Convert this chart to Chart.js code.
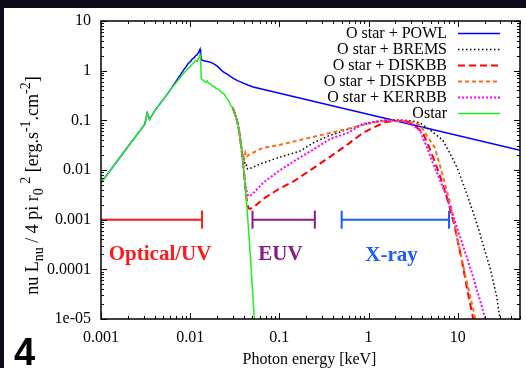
<!DOCTYPE html>
<html><head><meta charset="utf-8">
<script src="https://cdn.jsdelivr.net/npm/chart.js@4"></script>
<style>html,body{margin:0;padding:0;background:#fff;overflow:hidden}canvas{display:block}</style>
</head><body>
<canvas id="c" width="526" height="368"></canvas>
<script>
// ---------- data ----------
const seriesNames = ['O star + POWL','O star + BREMS','O star + DISKBB','O star + DISKPBB','O star + KERRBB','Ostar'];

const ostarEnergy = [0.001,0.0015,0.002,0.0027,0.0031,0.0033,0.0035,0.004,0.005,0.006,0.0075,0.0085,0.009,0.0095,0.01,0.0105,0.011,0.0115,0.012,0.0123,0.0127,0.0129,0.0131,0.0133,0.0136,0.0142,0.0148,0.0155,0.016,0.0168,0.0175,0.0185,0.0195,0.021,0.0225,0.024,0.0255,0.027,0.0285,0.03,0.0315,0.033,0.0345,0.036,0.0375,0.039,0.0405,0.042,0.0435,0.045,0.0465,0.048,0.0495,0.051,0.0525,0.055];
const ostarValues = [0.0055,0.0147,0.0293,0.06,0.084,0.139,0.105,0.155,0.264,0.41,0.68,0.9,1.0,1.1,1.2,1.35,1.45,1.6,1.55,1.75,1.9,2.05,1.75,0.7,0.66,0.64,0.58,0.62,0.56,0.55,0.5,0.48,0.44,0.42,0.36,0.34,0.28,0.25,0.2,0.18,0.14,0.11,0.08,0.05,0.028,0.015,0.0075,0.0035,0.0016,0.0007,0.0003,0.00012,5e-5,2.2e-5,1e-5,4e-6];

const powlEnergy = [0.001,0.0015,0.002,0.0027,0.0031,0.0033,0.0035,0.004,0.005,0.006,0.0075,0.0085,0.009,0.0095,0.01,0.0105,0.011,0.0115,0.012,0.0125,0.0129,0.0131,0.0134,0.014,0.015,0.0165,0.018,0.02,0.0215,0.0233,0.026,0.0285,0.0305,0.034,0.0396,0.045,0.0508,50];
const powlValues = [0.0055,0.0147,0.0293,0.06,0.084,0.139,0.105,0.155,0.264,0.41,0.75,1.05,1.2,1.4,1.5,1.7,1.8,2.0,2.1,2.4,2.7,2.1,1.65,1.6,1.55,1.5,1.4,1.25,1.1,0.95,0.85,0.76,0.7,0.63,0.56,0.51,0.47,0.025];

const bremsEnergy = [0.03,0.0315,0.033,0.0345,0.036,0.0375,0.039,0.0405,0.042,0.043,0.044,0.046,0.05,0.0656,0.1,0.17,0.238,0.35,0.56,0.8,1.18,1.7,2.25,3.0,3.77,5.0,6.8,8.2,9.77,11.3,13.0,15.3,17.7,20.1,22.9,25.0,27.4,29.6,31.5];
const bremsValues = [0.18,0.14,0.11,0.08,0.05,0.03,0.02,0.015,0.012,0.0125,0.0105,0.0105,0.0113,0.0139,0.018,0.024,0.035,0.048,0.064,0.079,0.093,0.1,0.102,0.098,0.089,0.062,0.040,0.0216,0.0115,0.0058,0.00288,0.00121,0.00054,0.00024,0.000112,5.8e-5,2.8e-5,1.1e-5,4e-6];

const diskbbEnergy = [0.03,0.0315,0.033,0.0345,0.036,0.0375,0.039,0.0405,0.042,0.0435,0.045,0.047,0.052,0.0656,0.1,0.142,0.23,0.37,0.6,0.866,1.2,1.57,2.25,2.91,3.5,4.07,4.9,5.83,6.7,7.55,8.4,9.28,11.1,13.0,14.8,15.5];
const diskbbValues = [0.18,0.14,0.11,0.08,0.05,0.028,0.015,0.0075,0.0035,0.0022,0.0017,0.00165,0.0018,0.0026,0.0042,0.0058,0.0103,0.0184,0.034,0.056,0.075,0.093,0.098,0.093,0.071,0.056,0.026,0.0115,0.0056,0.00288,0.00142,0.00072,0.000155,3.4e-5,1.1e-5,5e-6];

const diskpbbEnergy = [0.03,0.0315,0.033,0.0345,0.036,0.0375,0.039,0.0405,0.0415,0.043,0.045,0.05,0.0656,0.1,0.17,0.3,0.48,0.8,1.21,1.74,2.5,3.2,3.77,4.6,5.54,6.3,7.17,8.59,10.0,12.0,14.4,15.6,16.5];
const diskpbbValues = [0.18,0.14,0.11,0.08,0.05,0.03,0.02,0.017,0.022,0.018,0.02,0.022,0.028,0.032,0.040,0.051,0.062,0.078,0.093,0.098,0.097,0.09,0.081,0.047,0.028,0.0128,0.0055,0.00157,0.00039,8.5e-5,2.1e-5,1.1e-5,5e-6];

const kerrbbEnergy = [0.03,0.0315,0.033,0.0345,0.036,0.0375,0.039,0.0405,0.042,0.0435,0.045,0.047,0.05,0.0656,0.1,0.154,0.25,0.37,0.6,0.866,1.45,2.25,3.0,3.77,4.5,5.26,6.3,7.55,8.6,9.77,11.1,12.6,14.3,16.4,18.2,20.1,21.5];
const kerrbbValues = [0.18,0.14,0.11,0.08,0.05,0.028,0.015,0.0075,0.0045,0.0034,0.003,0.003,0.0033,0.0055,0.0097,0.016,0.027,0.042,0.057,0.085,0.1,0.098,0.084,0.064,0.029,0.0139,0.0064,0.00288,0.0014,0.00072,0.00036,0.000178,9e-5,3.9e-5,2.1e-5,1.1e-5,5e-6];

const rangeNames = ['Optical/UV','EUV','X-ray'];
const opticalRange = [0.001, 0.0136];
const euvRange = [0.05, 0.25];
const xrayRange = [0.5, 8];
const rangeLevel = 0.001;

const xTickValues = [0.001,0.01,0.1,1,10];
const xTickLabels = ['0.001','0.01','0.1','1','10'];
const yTickValues = [1e-5,1e-4,1e-3,1e-2,1e-1,1,10];
const yTickLabels = ['1e-05','0.0001','0.001','0.01','0.1','1','10'];

// ---------- helpers ----------
function zip(e, v){ return e.map((x,i)=>({x:x, y:v[i]})); }
function isDecade(v){ const l=Math.log10(v); return Math.abs(l-Math.round(l))<1e-6; }
function labelFor(vals, labs){ return function(v){ const i = vals.findIndex(t=>Math.abs(Math.log10(t)-Math.log10(v))<1e-6); return i>=0?labs[i]:''; }; }
function buildLogTicks(scale, dmin, dmax){
  const t=[]; for(let d=dmin; d<=dmax; d++) for(let m=1;m<=9;m++){ const v=m*Math.pow(10,d); if(v>=scale.min*0.9999 && v<=scale.max*1.0001) t.push({value:v}); }
  scale.ticks=t;
}
const SERIF = '"Liberation Serif", "Times New Roman", serif';
const SANS = '"Liberation Sans", Arial, sans-serif';

const styles = [
  {color:'#0000ff', width:1.5, dash:[]},
  {color:'#000000', width:1.5, dash:[1.5,2.5]},
  {color:'#ff0000', width:2, dash:[7,4]},
  {color:'#ff6a1f', width:2, dash:[4,3]},
  {color:'#ff00ff', width:2, dash:[2,2]},
  {color:'#22ee22', width:1.5, dash:[]}
];
const rangeColors = ['#ff1a1a','#8a1a8a','#1a5cff'];

function lineDs(i, e, v, order){
  return {label: seriesNames[i], data: zip(e,v), borderColor: styles[i].color, backgroundColor: styles[i].color,
    borderWidth: styles[i].width, borderDash: styles[i].dash, pointRadius:0, fill:false, tension:0, order: order};
}
function rangeDs(i, r, radii){
  return {label: rangeNames[i], data: zip(r, [rangeLevel, rangeLevel]), borderColor: rangeColors[i], backgroundColor: rangeColors[i],
    borderWidth: 2, pointStyle:'line', rotation:90, pointRadius: radii, pointBorderWidth:2, pointBorderColor: rangeColors[i], fill:false, order: 0};
}

// ---------- plugins ----------
const bgPlugin = {id:'bg', beforeDraw(chart){ const c=chart.ctx; c.save(); c.fillStyle='#fff'; c.fillRect(0,0,chart.width,chart.height);
  c.fillStyle='#0b0b1c'; c.fillRect(0,0,chart.width,8); c.fillRect(0,0,4,chart.height); c.restore(); }};

const framePlugin = {id:'frame', afterDatasetsDraw(chart){
  const c=chart.ctx, a=chart.chartArea, x=chart.scales.x, y=chart.scales.y;
  c.save(); c.strokeStyle='#000';
  c.lineWidth=1;
  c.beginPath();
  x.ticks.forEach(t=>{ const p=Math.round(x.getPixelForValue(t.value))+0.5; const L=isDecade(t.value)?6:3;
    c.moveTo(p,a.bottom); c.lineTo(p,a.bottom-L); c.moveTo(p,a.top); c.lineTo(p,a.top+L); });
  y.ticks.forEach(t=>{ const p=Math.round(y.getPixelForValue(t.value))+0.5; const L=isDecade(t.value)?6:3;
    c.moveTo(a.left,p); c.lineTo(a.left+L,p); c.moveTo(a.right,p); c.lineTo(a.right-L,p); });
  c.stroke();
  c.lineWidth=1.5;
  c.strokeRect(a.left, a.top, a.right-a.left, a.bottom-a.top);
  // legend
  c.font = '16px '+SERIF; c.textAlign='right'; c.textBaseline='middle'; c.fillStyle='#000';
  seriesNames.forEach((n,i)=>{ const yy=33+16*i; c.fillText(n, 447, yy+1);
    c.save(); c.strokeStyle=styles[i].color; c.lineWidth=styles[i].width; c.setLineDash(styles[i].dash);
    c.beginPath(); c.moveTo(458,yy+0.5); c.lineTo(500,yy+0.5); c.stroke(); c.restore(); });
  // range labels
  const labs = [[0.0046,2.0e-4],[0.103,2.0e-4],[1.81,1.86e-4]];
  c.font = 'bold 21px '+SERIF; c.textAlign='center'; c.textBaseline='middle';
  rangeNames.forEach((n,i)=>{ c.fillStyle=rangeColors[i]; c.fillText(n, x.getPixelForValue(labs[i][0]), y.getPixelForValue(labs[i][1])); });
  c.restore();
}};

const textPlugin = {id:'texts', afterDraw(chart){
  const c=chart.ctx; c.save(); c.fillStyle='#000';
  // x title
  c.font='16px '+SERIF; c.textAlign='center'; c.textBaseline='alphabetic';
  c.fillText('Photon energy [keV]', 309.5, 364);
  // y title with sub/superscripts
  const fs=18, ss=Math.round(fs*0.8);
  const segs=[['nu L',0],['nu',1],[' / 4 pi r',0],['0',1],[' ',0],['2',2],[' [erg.s',0],['-1',2],['.cm',0],['-2',2],[']',0]];
  let total=0;
  segs.forEach(s=>{ c.font=(s[1]?ss:fs)+'px '+SERIF; s.w=c.measureText(s[0]).width; total+=s.w; });
  c.translate(38,185.5); c.rotate(-Math.PI/2); c.textAlign='left';
  let px=-total/2;
  segs.forEach(s=>{ c.font=(s[1]?ss:fs)+'px '+SERIF; const dy = s[1]===1? fs*0.3 : (s[1]===2? -fs*0.45 : 0); c.fillText(s[0], px, dy); px+=s.w; });
  c.restore();
  c.save(); c.fillStyle='#000'; c.font='bold 38px '+SANS; c.textAlign='left'; c.textBaseline='alphabetic';
  c.fillText('4', 14, 365); c.restore();
}};

// ---------- chart ----------
new Chart(document.getElementById('c'), {
  type:'line',
  data:{ datasets:[
    lineDs(0, powlEnergy, powlValues, 6),
    lineDs(1, bremsEnergy, bremsValues, 5),
    lineDs(2, diskbbEnergy, diskbbValues, 4),
    lineDs(3, diskpbbEnergy, diskpbbValues, 3),
    lineDs(4, kerrbbEnergy, kerrbbValues, 2),
    lineDs(5, ostarEnergy, ostarValues, 1),
    rangeDs(0, opticalRange, [0,9]),
    rangeDs(1, euvRange, [9,9]),
    rangeDs(2, xrayRange, [9,9])
  ]},
  options:{
    responsive:false, animation:false, devicePixelRatio:1,
    layout:{autoPadding:false, padding:{left:0,right:6,top:21,bottom:0}},
    plugins:{legend:{display:false}, tooltip:{enabled:false}},
    scales:{
      x:{type:'logarithmic', min:0.001, max:50, position:'bottom',
        grid:{display:false, drawTicks:false}, border:{display:false},
        ticks:{font:{family:SERIF,size:16}, color:'#000', padding:9, maxRotation:0, minRotation:0, autoSkip:false,
          callback: labelFor(xTickValues, xTickLabels)},
        afterBuildTicks:(s)=>buildLogTicks(s,-3,1),
        afterFit:(s)=>{ s.height=49; s.paddingLeft=0; s.paddingRight=0; }},
      y:{type:'logarithmic', min:1e-5, max:10, position:'left',
        grid:{display:false, drawTicks:false}, border:{display:false},
        ticks:{font:{family:SERIF,size:16}, color:'#000', padding:10, autoSkip:false,
          callback: labelFor(yTickValues, yTickLabels)},
        afterBuildTicks:(s)=>buildLogTicks(s,-5,1),
        afterFit:(s)=>{ s.width=101; s.paddingTop=0; s.paddingBottom=0; }}
    }
  },
  plugins:[bgPlugin, framePlugin, textPlugin]
});
</script>
</body></html>
